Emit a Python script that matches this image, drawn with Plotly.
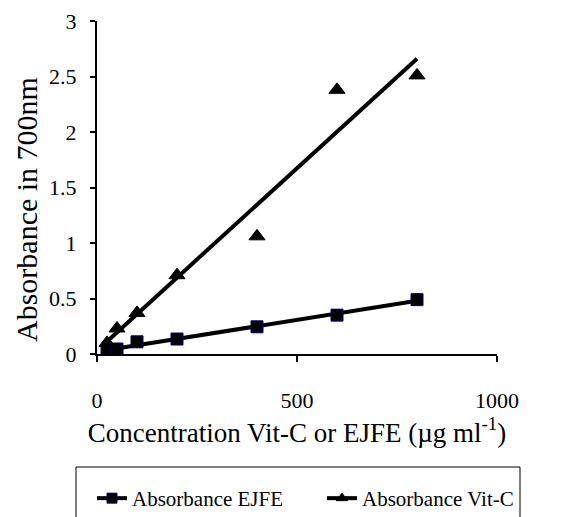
import numpy as np
import plotly.graph_objects as go

conc = [25, 50, 100, 200, 400, 600, 800]
abs_ejfe = [0.02, 0.045, 0.11, 0.135, 0.245, 0.35, 0.49]
abs_vitc = [0.10, 0.23, 0.37, 0.71, 1.06, 2.38, 2.51]
x_ticks = [0, 500, 1000]
y_ticks = [0, 0.5, 1, 1.5, 2, 2.5, 3]

FONT = "Liberation Serif"

def fit(xs, ys):
    m, b = np.polyfit(xs, ys, 1)
    xe = [min(xs), max(xs)]
    return xe, [m * v + b for v in xe]

fig = go.Figure()
for ys, sym, name, mcol, msz in [(abs_ejfe, "square", "Absorbance EJFE", "#000080", 12),
                                 (abs_vitc, "triangle-up", "Absorbance Vit-C", "black", 14)]:
    fx, fy = fit(conc, ys)
    fig.add_trace(go.Scatter(x=fx, y=fy, mode="lines", line=dict(color="black", width=4),
                             showlegend=False, hoverinfo="skip"))
    fig.add_trace(go.Scatter(x=conc, y=ys, mode="markers", showlegend=False,
                             marker=dict(symbol=sym, size=msz, color="black",
                                         line=dict(color=mcol, width=1))))
    fig.add_trace(go.Scatter(x=[None], y=[None], mode="lines+markers", name=name,
                             line=dict(color="black", width=4),
                             marker=dict(symbol=sym, size=10, color="black",
                                         line=dict(color=mcol, width=1))))

# page has an 8px body margin; compensate so the plot lands where the reference has it
OFF = 8
W, H = 564, 517
PL, PR, PT, PB = 97, 497, 21, 354  # target plot area in page pixels
L, T = PL - OFF, PT - OFF
R = W - (PR - OFF)
B = H - (PB - OFF)
pw, ph = PR - PL, PB - PT

def px_x(p):
    return (p - PL) / pw

def px_y(p):
    return (PB - p) / ph

fig.add_shape(type="rect", xref="paper", yref="paper",
              x0=px_x(76), x1=px_x(520), y0=px_y(467), y1=px_y(540),
              line=dict(color="black", width=1), fillcolor="rgba(0,0,0,0)")

fig.add_annotation(text="Absorbance in 700nm", textangle=-90, showarrow=False,
                   xref="paper", yref="paper", x=px_x(26), y=px_y(210),
                   xanchor="center", yanchor="middle",
                   font=dict(family=FONT, size=30, color="black"))

fig.update_layout(
    width=W, height=H,
    margin=dict(l=L, r=R, t=T, b=B, autoexpand=False),
    paper_bgcolor="white", plot_bgcolor="white",
    font=dict(family=FONT, color="black", size=22),
    legend=dict(orientation="h", x=px_x(92), y=px_y(478), xanchor="left", yanchor="top",
                font=dict(family=FONT, size=21), bgcolor="rgba(0,0,0,0)",
                itemwidth=30, tracegroupgap=0, entrywidth=185, entrywidthmode="pixels"),
    xaxis=dict(range=[0, 1000], tickvals=x_ticks, ticktext=[str(v) for v in x_ticks],
               showgrid=False, zeroline=False, showline=True, linecolor="black", linewidth=2,
               ticks="outside", ticklen=6, tickwidth=2, tickcolor="black",
               ticklabelstandoff=20, tickfont=dict(family=FONT, size=22),
               title=dict(text="Concentration Vit-C or EJFE (µg ml<sup>-1</sup>)",
                          font=dict(family=FONT, size=27), standoff=8)),
    yaxis=dict(range=[0, 3], tickvals=y_ticks, ticktext=[f"{v:g}" for v in y_ticks],
               showgrid=False, zeroline=False, showline=True, linecolor="black", linewidth=2,
               ticks="outside", ticklen=5, tickwidth=2, tickcolor="black",
               ticklabelstandoff=9, tickfont=dict(family=FONT, size=22)),
)

fig.write_html("out.html")
